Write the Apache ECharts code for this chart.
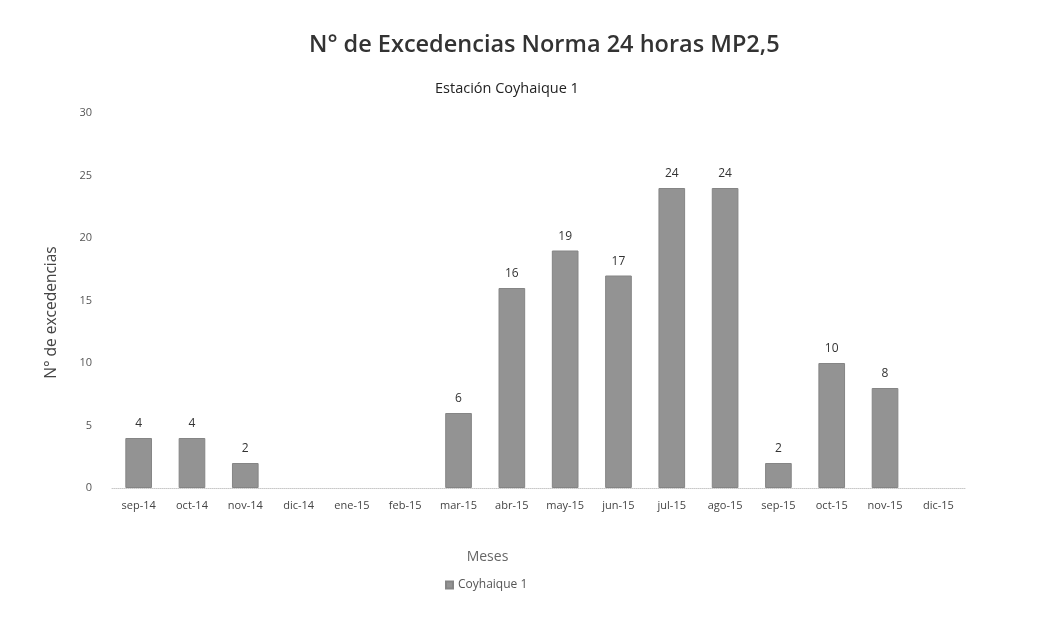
<!DOCTYPE html>
<html>
<head>
<meta charset="utf-8">
<title>Excedencias MP2,5</title>
<script src="https://cdn.jsdelivr.net/npm/echarts@6/dist/echarts.min.js"></script>
<style>
html,body{margin:0;padding:0;background:#fff;}
#chart{width:1041px;height:618px;}
</style>
</head>
<body>
<div id="chart"></div>
<script>
// meses y valores
var meses = ['sep-14','oct-14','nov-14','dic-14','ene-15','feb-15','mar-15','abr-15',
             'may-15','jun-15','jul-15','ago-15','sep-15','oct-15','nov-15','dic-15'];
var coyhaique1 = [4, 4, 2, null, null, null, 6, 16, 19, 17, 24, 24, 2, 10, 8, null];
var yTicks = [0, 5, 10, 15, 20, 25, 30];

var font = '"Open Sans", "Liberation Sans", sans-serif';

var chart = echarts.init(document.getElementById('chart'));
chart.setOption({
    animation: false,
    textStyle: {fontFamily: font},
    title: [{
        text: 'N° de Excedencias Norma 24 horas MP2,5',
        left: 304, top: 28,
        textStyle: {fontSize: 23.5, fontWeight: 600, color: '#333', fontFamily: font}
    }, {
        text: 'Estación Coyhaique 1',
        left: 430, top: 76,
        textStyle: {fontSize: 14.5, fontWeight: 'normal', color: '#222', fontFamily: font}
    }],
    legend: {
        bottom: 22, left: 440,
        icon: 'rect',
        itemWidth: 7, itemHeight: 7, itemGap: 4,
        textStyle: {fontSize: 12, color: '#555'},
        data: ['Coyhaique 1']
    },
    grid: {left: 112, right: 76, top: 113, bottom: 130},
    xAxis: {
        type: 'category',
        data: meses,
        name: 'Meses',
        nameLocation: 'middle',
        nameGap: 62,
        nameTextStyle: {fontSize: 14, color: '#666', padding: [0, 102, 0, 0]},
        axisLine: {lineStyle: {color: '#c8c8c8', type: 'dotted'}},
        axisTick: {show: false},
        axisLabel: {fontSize: 11, color: '#444', margin: 12}
    },
    yAxis: {
        type: 'value',
        min: yTicks[0], max: yTicks[yTicks.length - 1], interval: 5,
        name: 'N° de excedencias',
        nameLocation: 'middle',
        nameGap: 52,
        nameTextStyle: {fontSize: 15.5, color: '#444', padding: [0, 24, 0, 0]},
        axisLine: {show: false},
        axisTick: {show: false},
        splitLine: {show: false},
        axisLabel: {fontSize: 11, color: '#555', margin: 20}
    },
    series: [{
        name: 'Coyhaique 1',
        type: 'bar',
        data: coyhaique1,
        barWidth: '50%',
        itemStyle: {color: '#939393', borderColor: '#858585', borderWidth: 1},
        label: {show: true, position: 'top', distance: 8, fontSize: 12, color: '#333'}
    }]
});
</script>
</body>
</html>
